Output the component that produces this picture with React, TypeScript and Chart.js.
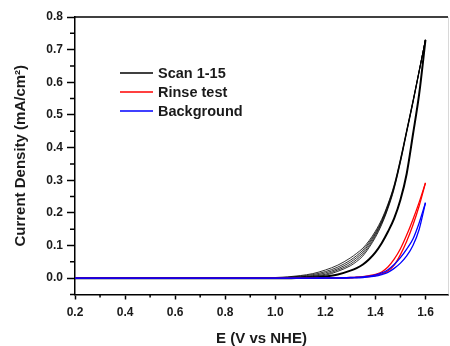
import React, { useEffect, useRef } from 'react';
import { Chart, registerables } from 'chart.js';

Chart.register(...registerables);

// Potential grid (V vs NHE)
const E_POINTS = [0.2, 0.4, 0.6, 0.8, 1.0, 1.05, 1.1, 1.15, 1.2, 1.25, 1.3, 1.325, 1.35, 1.375, 1.4, 1.425, 1.45, 1.475, 1.5, 1.525, 1.55, 1.575, 1.6];

// Scan 1-15: return branches (spread bundle) and common forward branch (mA/cm2)
const SCAN_RETURN_A = [0, 0, 0, 0, 0.002, 0.004, 0.008, 0.014, 0.025, 0.040, 0.062, 0.076, 0.092, 0.115, 0.144, 0.180, 0.227, 0.286, 0.365, 0.454, 0.543, 0.637, 0.730];
const SCAN_RETURN_B = [0, 0, 0, 0, 0.001, 0.003, 0.006, 0.011, 0.020, 0.034, 0.055, 0.069, 0.086, 0.110, 0.139, 0.176, 0.224, 0.283, 0.363, 0.452, 0.542, 0.636, 0.730];
const SCAN_RETURN_C = [0, 0, 0, 0, 0.001, 0.002, 0.004, 0.008, 0.016, 0.029, 0.049, 0.063, 0.080, 0.105, 0.135, 0.172, 0.220, 0.280, 0.360, 0.450, 0.540, 0.635, 0.730];
const SCAN_RETURN_D = [0, 0, 0, 0, 0.000, 0.001, 0.003, 0.006, 0.012, 0.025, 0.043, 0.057, 0.074, 0.099, 0.130, 0.168, 0.216, 0.277, 0.357, 0.448, 0.538, 0.634, 0.730];
const SCAN_RETURN_E = [0, 0, 0, 0, 0.000, 0.001, 0.002, 0.005, 0.009, 0.021, 0.038, 0.051, 0.068, 0.094, 0.125, 0.164, 0.213, 0.274, 0.355, 0.446, 0.537, 0.633, 0.730];
const SCAN_FORWARD = [0, 0, 0, 0, 0, 0, 0.001, 0.002, 0.005, 0.011, 0.023, 0.031, 0.042, 0.058, 0.079, 0.107, 0.142, 0.183, 0.240, 0.320, 0.440, 0.565, 0.730];

// Rinse test
const RINSE_RETURN = [0, 0, 0, 0, 0, 0, 0, 0, 0.001, 0.001, 0.002, 0.003, 0.005, 0.008, 0.012, 0.019, 0.034, 0.058, 0.090, 0.132, 0.180, 0.233, 0.292];
const RINSE_FORWARD = [0, 0, 0, 0, 0, 0, 0, 0, 0, 0, 0.001, 0.002, 0.003, 0.005, 0.008, 0.013, 0.022, 0.040, 0.072, 0.113, 0.163, 0.222, 0.292];

// Background
const BG_RETURN = [0, 0, 0, 0, 0, 0, 0, 0, 0.001, 0.001, 0.002, 0.003, 0.004, 0.006, 0.010, 0.016, 0.026, 0.042, 0.063, 0.089, 0.120, 0.170, 0.231];
const BG_FORWARD = [0, 0, 0, 0, 0, 0, 0, 0, 0, 0, 0.001, 0.001, 0.002, 0.004, 0.006, 0.011, 0.018, 0.030, 0.046, 0.068, 0.100, 0.150, 0.231];

const X_TICKS = [0.2, 0.4, 0.6, 0.8, 1.0, 1.2, 1.4, 1.6];
const X_MINOR_TICKS = [0.3, 0.5, 0.7, 0.9, 1.1, 1.3, 1.5];
const Y_TICKS = [0, 0.1, 0.2, 0.3, 0.4, 0.5, 0.6, 0.7, 0.8];
const Y_MINOR_TICKS = [-0.05, 0.05, 0.15, 0.25, 0.35, 0.45, 0.55, 0.65, 0.75];

const LEGEND_LABELS = ['Scan 1-15', 'Rinse test', 'Background'];
const LEGEND_COLORS = ['#000000', '#ff0000', '#0000ff'];

const FONT = "'Liberation Sans', Arial, sans-serif";
const TEXT_COLOR = '#1a1a1a';

const pts = (arr: number[]) => E_POINTS.map((x, i) => ({ x, y: arr[i] }));

const extrasPlugin = {
  id: 'extras',
  afterDraw(chart: any) {
    const { ctx, chartArea: a, scales } = chart;
    ctx.save();
    ctx.strokeStyle = '#000';
    ctx.lineWidth = 1.5;
    ctx.beginPath();
    ctx.moveTo(a.left - 0.75, a.top);
    ctx.lineTo(a.right, a.top);
    ctx.stroke();
    ctx.strokeStyle = '#d8d8d8';
    ctx.lineWidth = 1;
    ctx.beginPath();
    ctx.moveTo(a.right + 0.5, a.top);
    ctx.lineTo(a.right + 0.5, a.bottom);
    ctx.stroke();
    // minor ticks
    ctx.strokeStyle = '#000';
    ctx.lineWidth = 1.5;
    ctx.beginPath();
    Y_MINOR_TICKS.forEach((v) => {
      const y = scales.y.getPixelForValue(v);
      ctx.moveTo(a.left - 5, y);
      ctx.lineTo(a.left, y);
    });
    X_MINOR_TICKS.forEach((v) => {
      const x = scales.x.getPixelForValue(v);
      ctx.moveTo(x, a.bottom);
      ctx.lineTo(x, a.bottom + 3);
    });
    ctx.stroke();
    // legend
    const lx0 = 120, lx1 = 153, tx = 158, y0 = 73, dy = 19;
    ctx.font = `bold 14.5px ${FONT}`;
    ctx.textBaseline = 'middle';
    ctx.textAlign = 'left';
    LEGEND_LABELS.forEach((label, i) => {
      const y = y0 + i * dy;
      ctx.strokeStyle = LEGEND_COLORS[i];
      ctx.lineWidth = 1.3;
      ctx.beginPath();
      ctx.moveTo(lx0, y);
      ctx.lineTo(lx1, y);
      ctx.stroke();
      ctx.fillStyle = TEXT_COLOR;
      ctx.fillText(label, tx, y + 1);
    });
    ctx.restore();
  },
};

export default function App() {
  const ref = useRef<HTMLCanvasElement | null>(null);

  useEffect(() => {
    if (!ref.current) return;
    const scanReturns = [SCAN_RETURN_A, SCAN_RETURN_B, SCAN_RETURN_C, SCAN_RETURN_D, SCAN_RETURN_E];
    const line = (data: number[], color: string, width: number, order: number) => ({
      data: pts(data),
      borderColor: color,
      backgroundColor: color,
      borderWidth: width,
      pointRadius: 0,
      fill: false,
      cubicInterpolationMode: 'monotone',
      order,
    });
    const datasets: any[] = [
      ...scanReturns.map((d) => ({ label: 'Scan 1-15', ...line(d, 'rgba(0,0,0,0.8)', 1, 2) })),
      { label: 'Scan 1-15', ...line(SCAN_FORWARD, '#000000', 2, 2) },
      { label: 'Rinse test', ...line(RINSE_RETURN, '#ff0000', 1.3, 1) },
      { label: 'Rinse test', ...line(RINSE_FORWARD, '#ff0000', 1.3, 1) },
      { label: 'Background', ...line(BG_RETURN, '#0000ff', 1.3, 0) },
      { label: 'Background', ...line(BG_FORWARD, '#0000ff', 1.3, 0) },
    ];

    const chart = new Chart(ref.current, {
      type: 'line',
      data: { datasets },
      plugins: [extrasPlugin],
      options: {
        responsive: false,
        animation: false,
        layout: { padding: { top: 17, right: 2, left: 0, bottom: 0 } },
        plugins: { legend: { display: false }, tooltip: { enabled: false } },
        scales: {
          x: {
            type: 'linear',
            position: 'bottom',
            min: 0.2,
            max: 1.69,
            afterBuildTicks: (axis: any) => {
              axis.ticks = X_TICKS.map((v) => ({ value: v }));
            },
            afterFit: (axis: any) => {
              axis.height = 51.5;
            },
            ticks: {
              autoSkip: false,
              maxRotation: 0,
              padding: 6,
              color: TEXT_COLOR,
              font: { family: FONT, size: 12, weight: 'bold' },
              callback: (v: any) => Number(v).toFixed(1),
            },
            grid: {
              drawOnChartArea: false,
              drawTicks: true,
              tickLength: 5,
              tickColor: '#000',
              tickWidth: 1.5,
            },
            border: { display: true, color: '#000', width: 1.5 },
            title: {
              display: true,
              text: 'E (V vs NHE)',
              color: TEXT_COLOR,
              font: { family: FONT, size: 15, weight: 'bold' },
              padding: { top: 0, bottom: -2 },
            },
          },
          y: {
            type: 'linear',
            min: -0.05,
            max: 0.8,
            afterBuildTicks: (axis: any) => {
              axis.ticks = Y_TICKS.map((v) => ({ value: v }));
            },
            afterFit: (axis: any) => {
              axis.width = 75;
            },
            ticks: {
              padding: 4,
              color: TEXT_COLOR,
              font: { family: FONT, size: 12, weight: 'bold' },
              callback: (v: any) => Number(v).toFixed(1),
            },
            grid: {
              drawOnChartArea: false,
              drawTicks: true,
              tickLength: 8,
              tickColor: '#000',
              tickWidth: 1.5,
            },
            border: { display: true, color: '#000', width: 1.5 },
            title: {
              display: true,
              text: 'Current Density (mA/cm²)',
              color: TEXT_COLOR,
              font: { family: FONT, size: 15, weight: 'bold' },
              padding: { top: 12, bottom: 0 },
            },
          },
        },
      } as any,
    });
    return () => chart.destroy();
  }, []);

  return (
    <div style={{ position: 'fixed', left: 0, top: 0, width: 450, height: 346, background: '#fff' }}>
      <canvas ref={ref} width={450} height={346} style={{ display: 'block' }} />
    </div>
  );
}
